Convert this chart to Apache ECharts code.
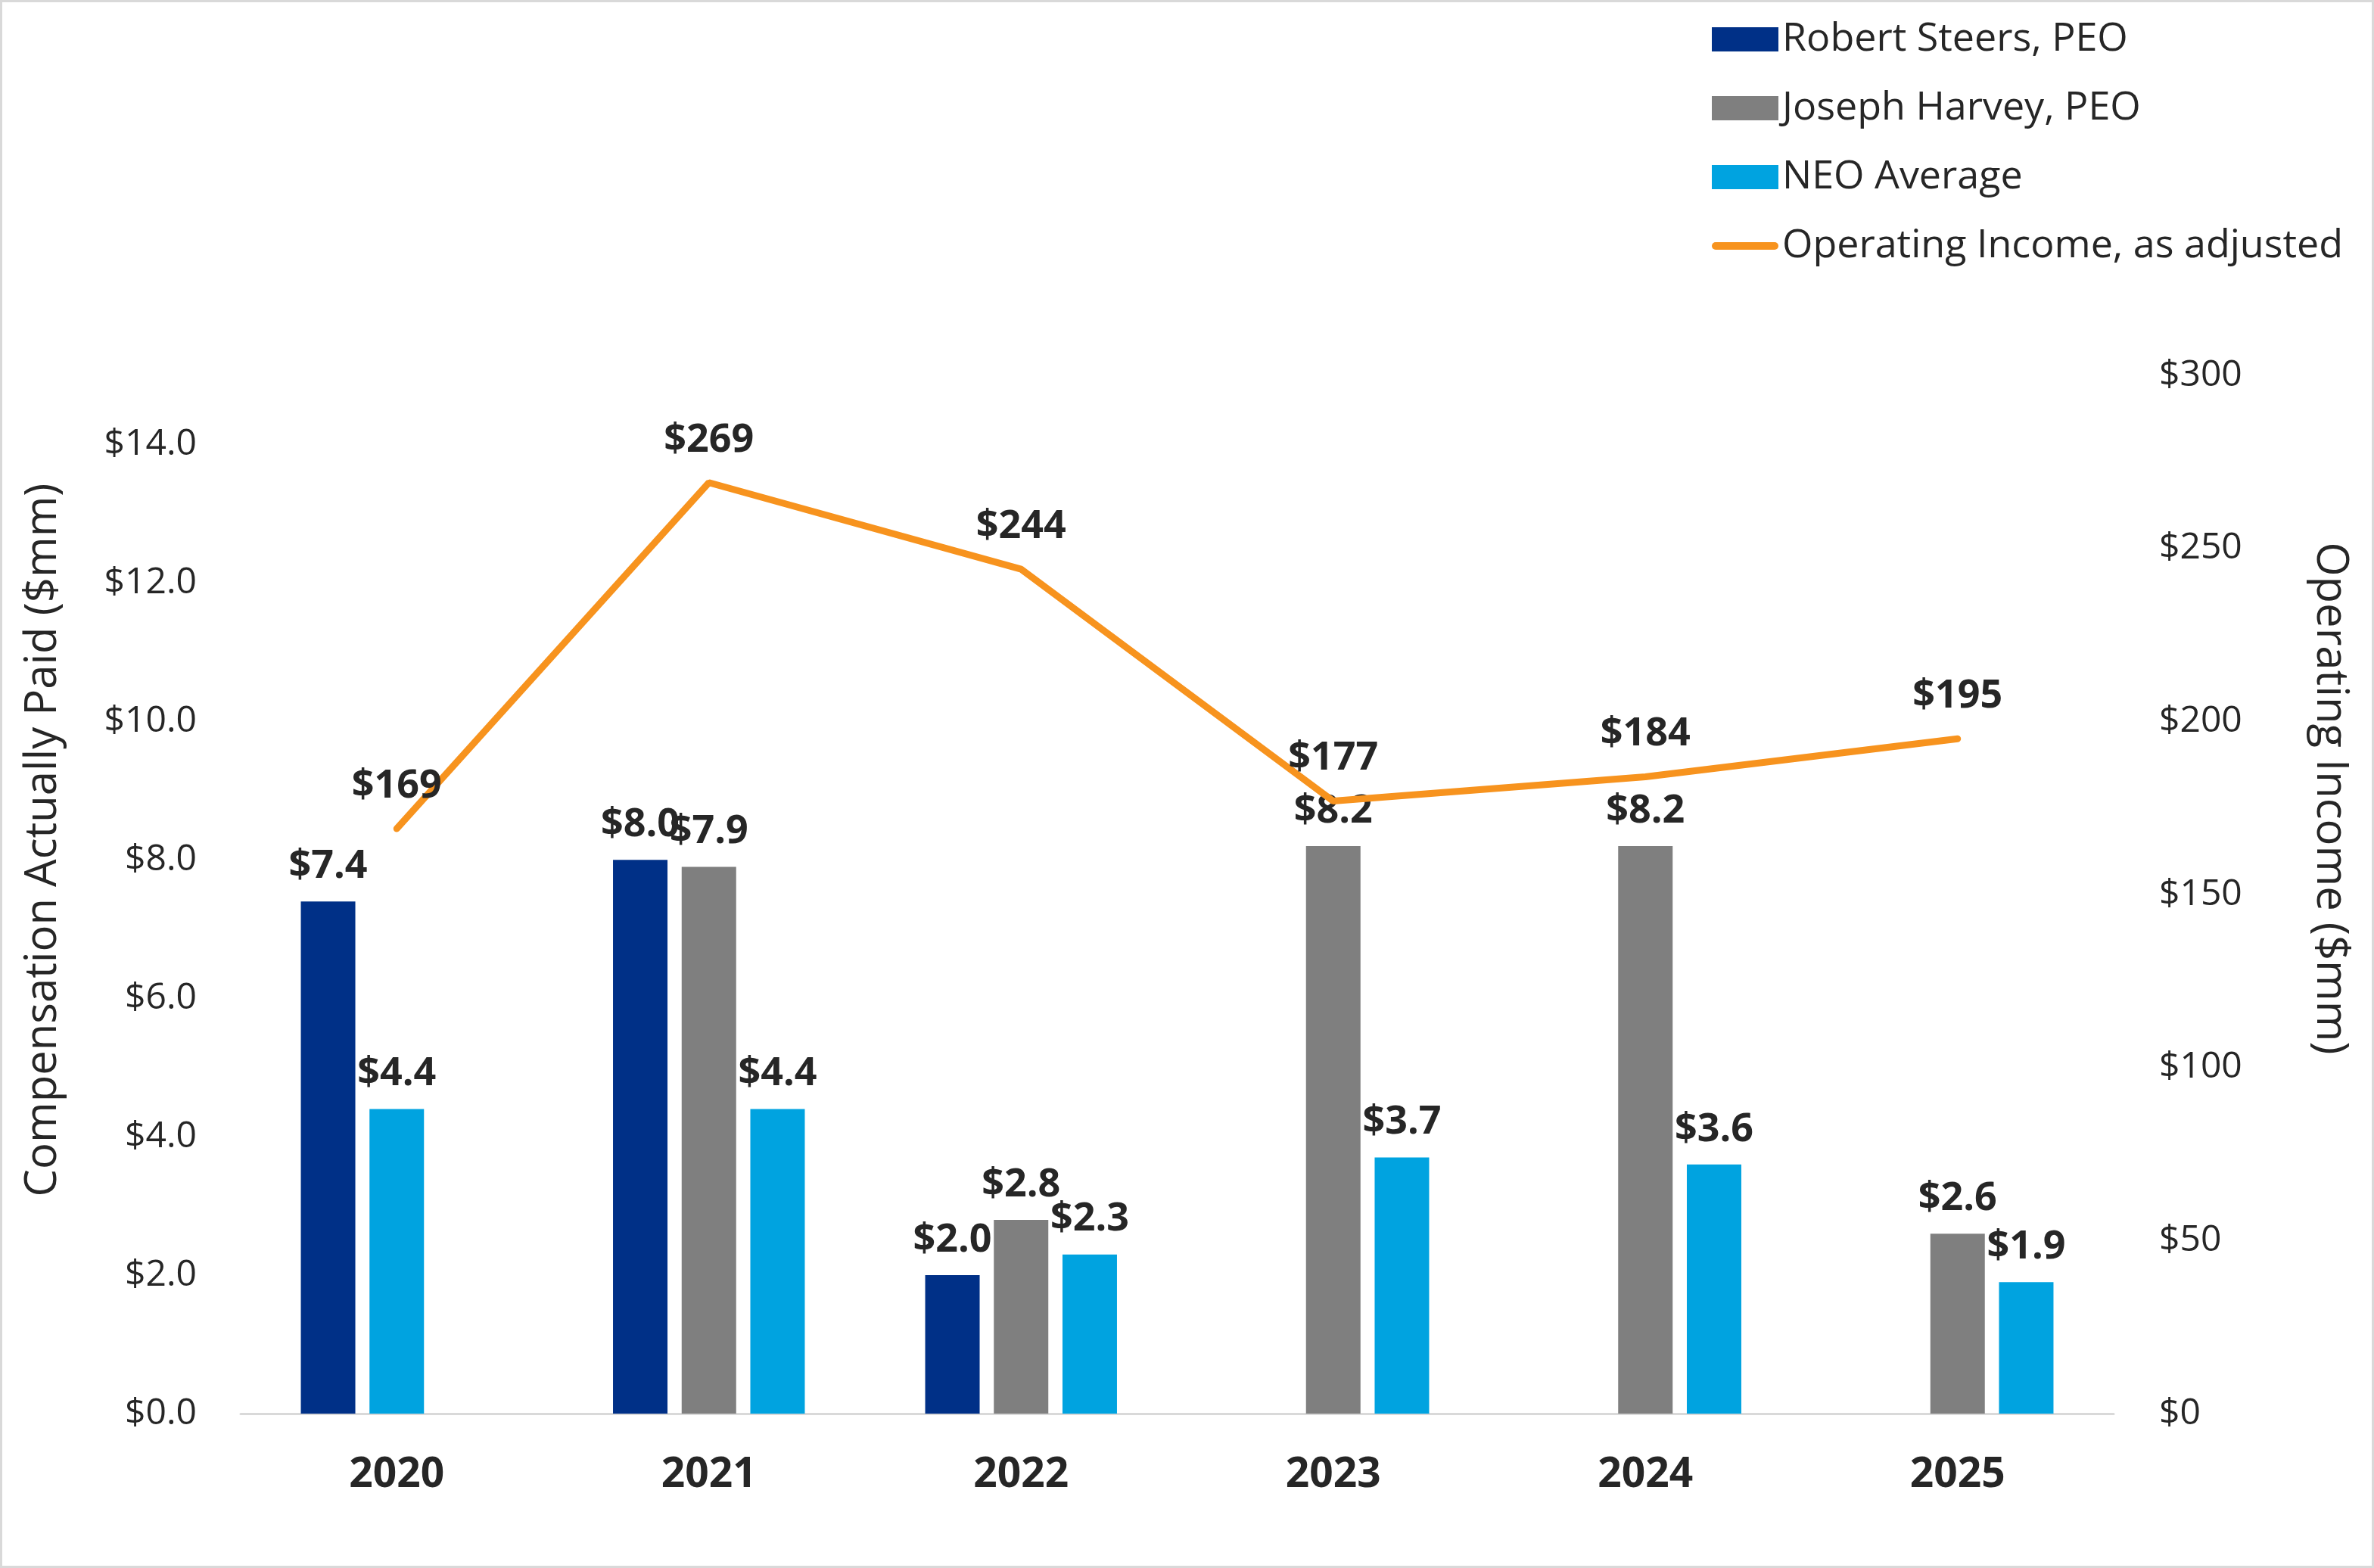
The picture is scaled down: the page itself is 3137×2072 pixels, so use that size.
<!DOCTYPE html>
<html>
<head>
<meta charset="utf-8">
<style>
  html, body { margin: 0; padding: 0; background: #fff; }
  #chart { width: 3137px; height: 2072px; }
</style>
<script src="https://cdn.jsdelivr.net/npm/echarts@6/dist/echarts.min.js"></script>
</head>
<body>
<div id="chart"></div>
<script>
const years = ['2020', '2021', '2022', '2023', '2024', '2025']
const robertSteers = [7.4, 8.0, 2.0, null, null, null]
const josephHarvey = [null, 7.9, 2.8, 8.2, 8.2, 2.6]
const neoAverage = [4.4, 4.4, 2.3, 3.7, 3.6, 1.9]
const operatingIncome = [169, 269, 244, 177, 184, 195]

const NAVY = '#003087'
const GRAY = '#7f7f7f'
const SKY = '#00a3e0'
const ORANGE = '#f7931e'
const FONT = 'Open Sans'
const TEXT = '#262626'

// where a year has no Harvey value the NEO bar moves into the middle slot
const middleSlot = years.map((y, i) => josephHarvey[i] != null ? josephHarvey[i] : { value: neoAverage[i], itemStyle: { color: SKY } })
const lastSlot = years.map((y, i) => josephHarvey[i] != null ? neoAverage[i] : null)

const barLabel = {
  show: true, position: 'top', distance: 20,
  fontFamily: FONT, fontWeight: 'bold', fontSize: 52, color: TEXT,
  formatter: p => '$' + Number(p.value).toFixed(1)
}

// thin rounded stroke for the line entry; the two leading moves keep the box at full icon size
const lineIcon = 'path://M0,0 M88,32 M5,11 L83,11 A5,5 0 0 1 83,21 L5,21 A5,5 0 0 1 5,11 Z'

const chart = echarts.init(document.getElementById('chart'))
chart.setOption({
  animation: false,
  backgroundColor: '#fff',
  graphic: [{
    type: 'rect', shape: { x: 0, y: 0, width: 3137, height: 2072 },
    style: { fill: 'none', stroke: '#d9d9d9', lineWidth: 6 }, silent: true
  }],
  legend: {
    orient: 'vertical', left: 2257, top: 18,
    itemWidth: 88, itemHeight: 32, itemGap: 33,
    textStyle: { fontFamily: FONT, fontSize: 52, color: TEXT, lineHeight: 58 },
    data: [
      { name: 'Robert Steers, PEO', icon: 'rect' },
      { name: 'Joseph Harvey, PEO', icon: 'rect' },
      { name: 'NEO Average', icon: 'rect' },
      { name: 'Operating Income, as adjusted', icon: lineIcon }
    ]
  },
  grid: { left: 318, right: 344, top: 496, bottom: 204 },
  xAxis: {
    type: 'category', data: years,
    axisTick: { show: false },
    axisLine: { lineStyle: { color: '#d9d9d9', width: 3 } },
    axisLabel: { margin: 54, fontFamily: FONT, fontWeight: 'bold', fontSize: 55, color: TEXT }
  },
  yAxis: [
    {
      type: 'value', min: 0, max: 15, interval: 2,
      splitLine: { show: false },
      axisLabel: { margin: 58, showMaxLabel: false, fontFamily: FONT, fontSize: 48, color: TEXT, formatter: v => '$' + v.toFixed(1) },
      name: 'Compensation Actually Paid ($mm)', nameLocation: 'middle', nameRotate: 90, nameGap: 232,
      nameTextStyle: { fontFamily: FONT, fontSize: 58, color: TEXT, padding: [0, 0, 0, 144] }
    },
    {
      type: 'value', min: 0, max: 300, interval: 50, position: 'right',
      splitLine: { show: false },
      axisLabel: { margin: 60, fontFamily: FONT, fontSize: 48, color: TEXT, formatter: v => '$' + v },
      name: 'Operating Income ($mm)', nameLocation: 'middle', nameRotate: -90, nameGap: 257,
      nameTextStyle: { fontFamily: FONT, fontSize: 58, color: TEXT, padding: [0, 254, 0, 0] }
    }
  ],
  series: [
    {
      name: 'Robert Steers, PEO', type: 'bar', barWidth: 72, barGap: '26%',
      itemStyle: { color: NAVY }, label: barLabel, data: robertSteers
    },
    {
      name: 'Joseph Harvey, PEO', type: 'bar', barWidth: 72, barGap: '26%',
      itemStyle: { color: GRAY }, label: barLabel, data: middleSlot
    },
    {
      name: 'NEO Average', type: 'bar', barWidth: 72, barGap: '26%',
      itemStyle: { color: SKY }, label: barLabel, data: lastSlot
    },
    {
      name: 'Operating Income, as adjusted', type: 'line', yAxisIndex: 1,
      symbol: 'circle', symbolSize: 0, showSymbol: true,
      lineStyle: { color: ORANGE, width: 9, cap: 'round' },
      itemStyle: { color: ORANGE },
      label: {
        show: true, position: 'top', distance: 30,
        fontFamily: FONT, fontWeight: 'bold', fontSize: 52, color: TEXT,
        formatter: p => '$' + p.value
      },
      data: operatingIncome
    }
  ]
})
</script>
</body>
</html>
